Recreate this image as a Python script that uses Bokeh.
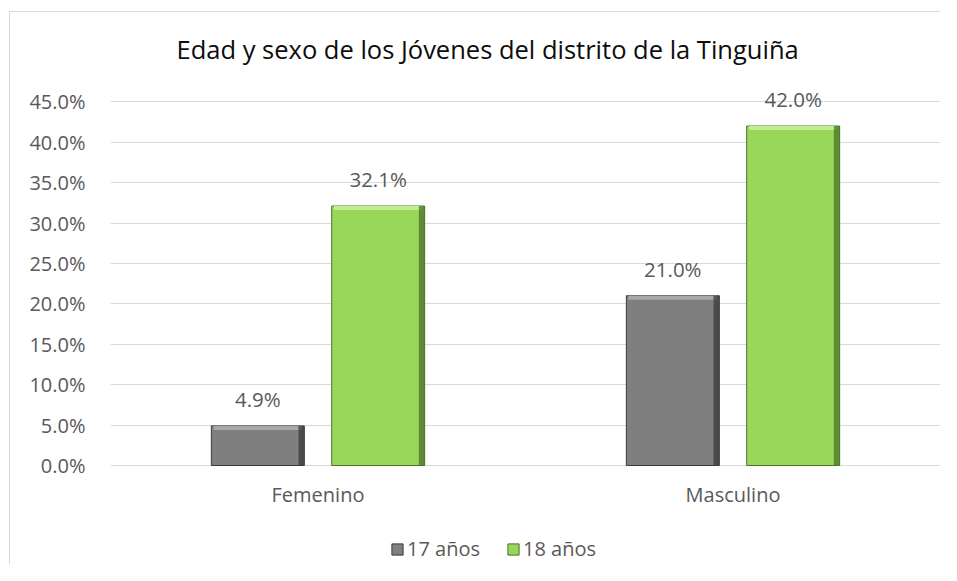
from bokeh.plotting import figure
from bokeh.models import ColumnDataSource, Legend, LegendItem, NumeralTickFormatter, FixedTicker, LabelSet, Title
from bokeh.core.properties import value
from bokeh.transform import dodge
from bokeh.embed import file_html
from bokeh.resources import INLINE

categories = ["Femenino", "Masculino"]
series_names = ["17 años", "18 años"]
age17 = [0.049, 0.210]
age18 = [0.321, 0.420]
y_ticks = [0.0, 0.05, 0.10, 0.15, 0.20, 0.25, 0.30, 0.35, 0.40, 0.45]

FONT = "Open Sans"
GREY_TXT = "#595959"

def fmt(v):
    return f"{v*100:.1f}%"

BAND = 0.005
src = ColumnDataSource(dict(
    cat=categories, a=age17, b=age18,
    a_hi=[v - BAND for v in age17], b_hi=[v - BAND for v in age18],
    la=[fmt(v) for v in age17], lb=[fmt(v) for v in age18],
    zero=[0.0] * len(categories),
))

# the frame extends below 0 (category labels, legend) and a bit above 45% (value labels)
p = figure(x_range=categories, y_range=(-0.12, 0.48), width=931, height=553,
           output_backend="svg", toolbar_location=None, x_axis_location=None,
           min_border_left=100, min_border_right=1, min_border_top=65, min_border_bottom=3)
p.styles = {"border-left": "1px solid #d9d9d9", "border-top": "1px solid #d9d9d9",
            "margin-left": "9px", "margin-top": "11px"}

p.title = Title(text="Edad y sexo de los Jóvenes del distrito de la Tinguiña", align="left",
                text_font=FONT, text_font_size="25.5px", text_font_style="normal",
                text_color="#0d0d0d", offset=66, standoff=24)

W = 0.224
OFF = 0.145
colors = {"a": ("#7f7f7f", "#3a3a3a", "#a8a8a8"), "b": ("#98d75a", "#4a7326", "#c0ee8e")}
renderers = []
for key, off in (("a", -OFF), ("b", OFF)):
    main, dark, light = colors[key]
    r = p.vbar(x=dodge("cat", off, range=p.x_range), top=key, width=W, source=src,
               fill_color=main, line_color=dark, line_width=1)
    # bevel: light top band and darker right edge
    p.vbar(x=dodge("cat", off, range=p.x_range), top=key + "_hi", bottom=key, width=W - 0.01,
           source=src, fill_color=light, line_color=None)
    p.vbar(x=dodge("cat", off + W / 2 - 0.007, range=p.x_range), top=key, width=0.014, source=src,
           fill_color=dark, line_color=None, fill_alpha=0.75)
    renderers.append(r)
    lbl = LabelSet(x=dodge("cat", off, range=p.x_range), y=key, text="l" + key, source=src,
                   text_align="center", text_baseline="bottom", y_offset=13,
                   text_font=value(FONT), text_font_size=value("20.5px"), text_color=GREY_TXT)
    p.add_layout(lbl)

# category labels under the zero line
cat_lbl = LabelSet(x="cat", y="zero", text="cat", source=src, text_align="center",
                   text_baseline="middle", y_offset=-29,
                   text_font=value(FONT), text_font_size=value("20px"), text_color=GREY_TXT)
p.add_layout(cat_lbl)

p.yaxis.ticker = FixedTicker(ticks=y_ticks)
p.yaxis.formatter = NumeralTickFormatter(format="0.0%")
p.yaxis.axis_line_color = None
p.yaxis.major_tick_line_color = None
p.yaxis.minor_tick_line_color = None
p.yaxis.major_label_text_font = FONT
p.yaxis.major_label_text_color = GREY_TXT
p.yaxis.major_label_text_font_size = "20px"
p.yaxis.major_label_standoff = 19

p.xgrid.grid_line_color = None
p.ygrid.grid_line_color = "#d9d9d9"
p.ygrid.ticker = FixedTicker(ticks=y_ticks)
p.outline_line_color = None

legend = Legend(items=[LegendItem(label=series_names[0], renderers=[renderers[0]]),
                       LegendItem(label=series_names[1], renderers=[renderers[1]])],
                orientation="horizontal", location=(280, 0), border_line_color=None,
                background_fill_alpha=0,
                label_text_font=FONT, label_text_font_size="20px", label_text_color=GREY_TXT,
                glyph_width=14, glyph_height=14, spacing=26, label_standoff=3, padding=0, margin=0)
p.add_layout(legend, "center")

open("out.html", "w").write(file_html(p, INLINE))
